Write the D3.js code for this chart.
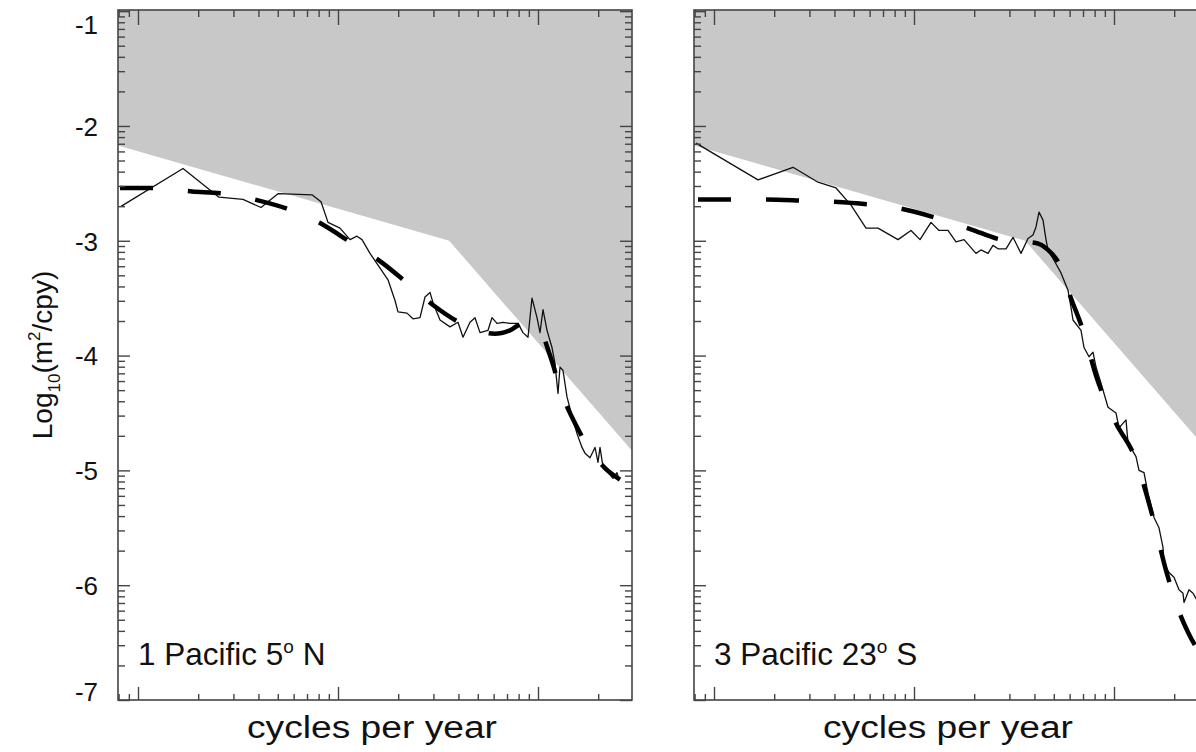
<!DOCTYPE html>
<html>
  <head>
    <meta charset="utf-8">
    <script src="https://d3js.org/d3.v7.min.js"></script>
    <style>
      body { margin: 0px; background: #fff; }
      text { font-family: "Liberation Sans", Arial, Helvetica, sans-serif; fill: #111; }
      .frame { fill: none; stroke: #444; stroke-width: 1.6; }
      .tick line { stroke: #444; stroke-width: 1.4; }
      .domain { display: none; }
    </style>
  </head>
  <body>
    <svg width="1196" height="752"></svg>
    <script>
      // values: [log10(cycles per year), log10(m^2/cpy)]
      const grayEdge = [[-1.1, -2.17], [0.556, -3.0], [1.47, -4.83]];

      const spectrum1 = [
        [-1.085, -2.70], [-0.775, -2.37], [-0.595, -2.62], [-0.475, -2.64], [-0.385, -2.71],
        [-0.35, -2.66], [-0.30, -2.59], [-0.13, -2.60], [-0.085, -2.66], [-0.05, -2.84],
        [0.01, -2.89], [0.06, -2.99], [0.095, -2.96], [0.12, -2.99], [0.16, -3.11],
        [0.195, -3.20], [0.25, -3.34], [0.285, -3.52], [0.30, -3.62], [0.345, -3.63],
        [0.375, -3.68], [0.41, -3.67], [0.435, -3.49], [0.46, -3.45], [0.475, -3.54],
        [0.51, -3.69], [0.56, -3.75], [0.60, -3.71], [0.625, -3.84], [0.66, -3.71],
        [0.685, -3.67], [0.71, -3.80], [0.75, -3.78], [0.77, -3.67], [0.795, -3.72],
        [0.825, -3.71], [0.86, -3.72], [0.90, -3.72], [0.925, -3.80], [0.95, -3.84],
        [0.97, -3.50], [0.995, -3.67], [1.01, -3.80], [1.025, -3.60], [1.045, -3.78],
        [1.07, -3.93], [1.085, -4.07], [1.10, -4.33], [1.11, -4.10], [1.125, -4.13],
        [1.145, -4.36], [1.175, -4.56], [1.195, -4.68], [1.22, -4.80], [1.235, -4.85],
        [1.26, -4.89], [1.285, -4.80], [1.30, -4.93], [1.31, -4.80], [1.325, -4.97],
        [1.35, -5.02], [1.375, -5.07], [1.395, -5.02], [1.405, -5.08]
      ];

      const fit1 = [
        [-1.09, -2.54], [-0.915, -2.54], [-0.73, -2.57], [-0.57, -2.59], [-0.395, -2.65],
        [-0.24, -2.73], [-0.075, -2.86], [0.06, -3.01], [0.22, -3.19], [0.34, -3.36],
        [0.475, -3.56], [0.605, -3.71], [0.785, -3.81], [0.86, -3.78], [0.925, -3.72],
        [1.01, -3.78], [1.06, -4.00], [1.125, -4.36], [1.185, -4.59], [1.26, -4.82],
        [1.335, -4.98], [1.41, -5.08]
      ];

      const spectrum3 = [
        [-1.09, -2.15], [-0.78, -2.47], [-0.605, -2.36], [-0.48, -2.49], [-0.39, -2.54],
        [-0.315, -2.69], [-0.24, -2.89], [-0.18, -2.89], [-0.08, -2.99], [-0.015, -2.91],
        [0.03, -2.99], [0.085, -2.84], [0.125, -2.91], [0.17, -2.91], [0.21, -3.01],
        [0.25, -2.99], [0.31, -3.11], [0.335, -3.08], [0.37, -3.11], [0.395, -3.04],
        [0.42, -3.07], [0.46, -3.07], [0.495, -2.97], [0.535, -3.11], [0.57, -2.98],
        [0.595, -2.95], [0.61, -2.88], [0.625, -2.75], [0.645, -2.82], [0.66, -2.99],
        [0.67, -3.08], [0.70, -3.17], [0.735, -3.28], [0.77, -3.43], [0.785, -3.58],
        [0.795, -3.69], [0.835, -3.78], [0.85, -3.93], [0.875, -4.01], [0.895, -3.97],
        [0.91, -4.10], [0.935, -4.24], [0.97, -4.45], [1.01, -4.50], [1.025, -4.63],
        [1.06, -4.56], [1.07, -4.76], [1.11, -4.88], [1.125, -5.00], [1.15, -5.02],
        [1.17, -5.20], [1.20, -5.41], [1.225, -5.50], [1.245, -5.67], [1.25, -5.81],
        [1.275, -5.89], [1.30, -5.93], [1.325, -6.04], [1.345, -6.07], [1.35, -6.15],
        [1.375, -6.04], [1.395, -6.07], [1.415, -6.13], [1.44, -6.16]
      ];

      const fit3 = [
        [-1.08, -2.64], [-0.765, -2.64], [-0.565, -2.65], [-0.315, -2.67], [-0.065, -2.72],
        [0.11, -2.80], [0.285, -2.90], [0.435, -2.99], [0.61, -3.02], [0.67, -3.08],
        [0.725, -3.20], [0.785, -3.50], [0.845, -3.78], [0.915, -4.20], [1.01, -4.59],
        [1.10, -4.87], [1.185, -5.35], [1.26, -5.87], [1.325, -6.23], [1.37, -6.41],
        [1.415, -6.55], [1.45, -6.62]
      ];

      const yMajor = [-1, -2, -3, -4, -5, -6, -7];
      const yTickLabels = ['-1', '-2', '-3', '-4', '-5', '-6', '-7'];
      const xMajor = [-1, 0, 1];
      const panelNames = [['1 Pacific 5', 'N'], ['3 Pacific 23', 'S']];

      const svg = d3.select('svg');
      const panelLeft = [118, 694];
      const panelW = 514;
      const plotTop = 10, plotBottom = 700;

      const yScale = d3.scaleLinear().domain([-7, -0.99]).range([plotBottom, plotTop]);

      // log-style minor ticks
      const decadeTicks = (lo, hi) => {
        const out = [];
        for (let n = Math.floor(lo) - 1; n <= Math.ceil(hi); n++) {
          for (let k = 2; k <= 9; k++) {
            const v = n + Math.log10(k);
            if (v >= lo && v <= hi) out.push(v);
          }
        }
        return out;
      };
      const yMinor = decadeTicks(-7, -0.99);
      const xMinor = decadeTicks(-1.1, 1.47);

      const panels = [
        { spec: spectrum1, fit: fit1, name: panelNames[0] },
        { spec: spectrum3, fit: fit3, name: panelNames[1] }
      ];

      panels.forEach((p, i) => {
        const x0 = panelLeft[i];
        const xScale = d3.scaleLinear().domain([-1.1, 1.47]).range([x0, x0 + panelW]);

        const clipId = 'clip' + i;
        svg.append('clipPath').attr('id', clipId)
          .append('rect').attr('x', x0).attr('y', plotTop).attr('width', panelW).attr('height', plotBottom - plotTop);

        const g = svg.append('g').attr('clip-path', `url(#${clipId})`);

        // gray upper region
        g.append('path')
          .datum(grayEdge)
          .attr('fill', '#c8c8c8')
          .attr('d', d3.area()
            .x(d => xScale(d[0]))
            .y0(plotTop)
            .y1(d => yScale(d[1])));

        // thin spectrum
        g.append('path')
          .datum(p.spec)
          .attr('fill', 'none')
          .attr('stroke', '#111')
          .attr('stroke-width', 1.3)
          .attr('stroke-linejoin', 'round')
          .attr('d', d3.line().x(d => xScale(d[0])).y(d => yScale(d[1])));

        // dashed fit
        g.append('path')
          .datum(p.fit)
          .attr('fill', 'none')
          .attr('stroke', '#000')
          .attr('stroke-width', 4.5)
          .attr('stroke-dasharray', '33,35')
          .attr('d', d3.line().curve(d3.curveMonotoneX).x(d => xScale(d[0])).y(d => yScale(d[1])));

        // axes, ticks pointing inward on all four sides
        const axes = svg.append('g');
        axes.append('g').attr('transform', `translate(0,${plotBottom})`)
          .call(d3.axisBottom(xScale).tickValues(xMinor).tickSize(-6).tickFormat(''));
        axes.append('g').attr('transform', `translate(0,${plotBottom})`)
          .call(d3.axisBottom(xScale).tickValues(xMajor).tickSize(-13).tickFormat(''));
        axes.append('g').attr('transform', `translate(0,${plotTop})`)
          .call(d3.axisTop(xScale).tickValues(xMinor).tickSize(-7).tickFormat(''));
        axes.append('g').attr('transform', `translate(0,${plotTop})`)
          .call(d3.axisTop(xScale).tickValues(xMajor).tickSize(-15).tickFormat(''));

        axes.append('g').attr('transform', `translate(${x0},0)`)
          .call(d3.axisLeft(yScale).tickValues(yMinor).tickSize(-7).tickFormat(''));
        axes.append('g').attr('transform', `translate(${x0},0)`)
          .call(d3.axisLeft(yScale).tickValues(yMajor).tickSize(-12).tickFormat(''));
        axes.append('g').attr('transform', `translate(${x0 + panelW},0)`)
          .call(d3.axisRight(yScale).tickValues(yMinor).tickSize(-7).tickFormat(''));
        axes.append('g').attr('transform', `translate(${x0 + panelW},0)`)
          .call(d3.axisRight(yScale).tickValues(yMajor).tickSize(-12).tickFormat(''));

        axes.append('rect').attr('class', 'frame')
          .attr('x', x0).attr('y', plotTop).attr('width', panelW).attr('height', plotBottom - plotTop);

        // panel label
        const lab = svg.append('text')
          .attr('x', x0 + 20).attr('y', 665)
          .style('font-size', '31.5px');
        lab.append('tspan').text(p.name[0]);
        lab.append('tspan').text('o').style('font-size', '19px').attr('dy', -12);
        lab.append('tspan').text(' ' + p.name[1]).attr('dy', 12);

        // x axis title
        svg.append('text')
          .attr('x', x0 + panelW / 2 - 3).attr('y', 738)
          .attr('text-anchor', 'middle')
          .attr('textLength', 250)
          .attr('lengthAdjust', 'spacingAndGlyphs')
          .style('font-size', '31px')
          .text('cycles per year');
      });

      // y tick labels (left panel only)
      const labelShift = { '-1': 13, '-7': -9 };
      svg.append('g').selectAll('text').data(yMajor).join('text')
        .attr('x', 98)
        .attr('y', d => yScale(d) + 3 + (labelShift[String(d)] || 0))
        .attr('text-anchor', 'end')
        .attr('dominant-baseline', 'middle')
        .style('font-size', '26px')
        .text((d, i) => yTickLabels[i]);

      // y axis title
      const yt = svg.append('text')
        .attr('transform', 'translate(52,355) rotate(-90)')
        .attr('text-anchor', 'middle')
        .style('font-size', '28px');
      yt.append('tspan').text('Log');
      yt.append('tspan').text('10').style('font-size', '17px').attr('dy', 8);
      yt.append('tspan').text('(m').attr('dy', -8);
      yt.append('tspan').text('2').style('font-size', '17px').attr('dy', -12);
      yt.append('tspan').text('/cpy)').attr('dy', 12);
    </script>
  </body>
</html>
